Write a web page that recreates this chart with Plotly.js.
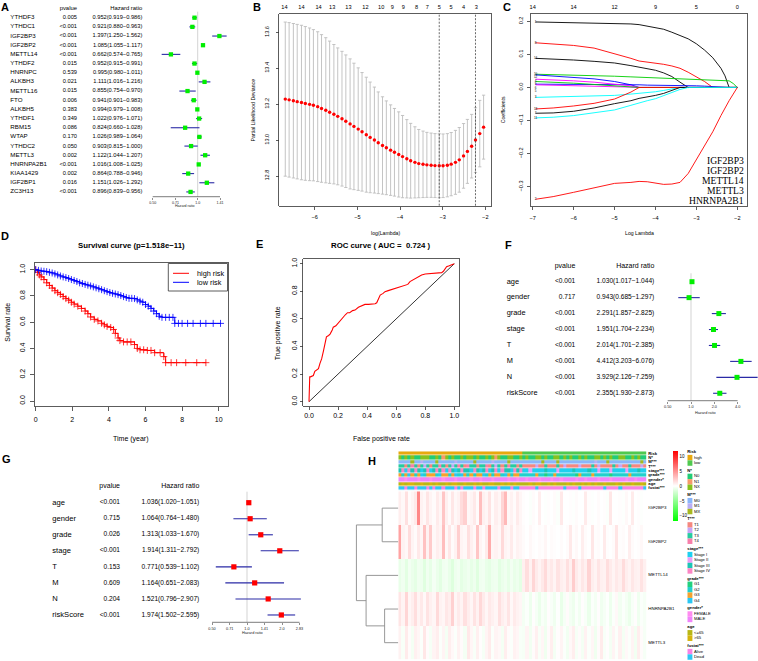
<!DOCTYPE html>
<html><head><meta charset="utf-8">
<script src="https://cdn.plot.ly/plotly-3.0.1.min.js"></script>
<style>body{margin:0;padding:0;background:#fff}#chart{width:758px;height:661px}</style>
</head><body><div id="chart"></div>
<script>
// ================= DATA =================
// Panel A: univariate Cox of m6A regulators
const aGenes = ["YTHDF3","YTHDC1","IGF2BP3","IGF2BP2","METTL14","YTHDF2","HNRNPC","ALKBH3","METTL16","FTO","ALKBH5","YTHDF1","RBM15","WTAP","YTHDC2","METTL3","HNRNPA2B1","KIAA1429","IGF2BP1","ZC3H13"];
const aP = ["0.005","<0.001","<0.001","<0.001","<0.001","0.015","0.539","0.021","0.015","0.006","0.383","0.349","0.086","0.170","0.050","0.002","<0.001","0.002","0.016","<0.001"];
const aHR = [0.952,0.921,1.397,1.085,0.662,0.952,0.995,1.111,0.855,0.941,0.994,1.022,0.824,1.026,0.903,1.122,1.016,0.864,1.151,0.896];
const aLow = [0.919,0.880,1.250,1.055,0.574,0.915,0.980,1.016,0.754,0.901,0.979,0.976,0.660,0.989,0.815,1.044,1.008,0.788,1.026,0.839];
const aHigh = [0.986,0.963,1.562,1.117,0.765,0.991,1.011,1.216,0.970,0.983,1.008,1.071,1.028,1.064,1.000,1.207,1.025,0.946,1.292,0.956];
const aTicks = [0.5,0.71,1,1.41];
const aTickText = ["0.50","0.71","1.0","1.41"];

// Panel B: cross-validation curve
const bX = [-6.69,-6.60,-6.50,-6.41,-6.31,-6.22,-6.12,-6.03,-5.93,-5.84,-5.74,-5.65,-5.55,-5.46,-5.36,-5.27,-5.17,-5.08,-4.98,-4.89,-4.79,-4.70,-4.60,-4.51,-4.41,-4.32,-4.22,-4.13,-4.03,-3.94,-3.84,-3.75,-3.65,-3.56,-3.46,-3.37,-3.27,-3.18,-3.08,-2.99,-2.89,-2.80,-2.70,-2.61,-2.51,-2.42,-2.32,-2.23,-2.13,-2.04];
const bMean = [13.228,13.224,13.219,13.214,13.209,13.204,13.199,13.194,13.186,13.176,13.166,13.155,13.144,13.132,13.119,13.105,13.090,13.076,13.061,13.046,13.030,13.015,13.000,12.985,12.970,12.957,12.944,12.932,12.920,12.908,12.896,12.885,12.876,12.869,12.865,12.862,12.860,12.858,12.857,12.857,12.860,12.866,12.876,12.890,12.912,12.937,12.966,13.000,13.036,13.072];
const bSd = [0.429,0.430,0.430,0.430,0.430,0.428,0.425,0.421,0.417,0.411,0.404,0.396,0.388,0.381,0.375,0.369,0.362,0.352,0.341,0.330,0.320,0.308,0.295,0.283,0.271,0.261,0.252,0.244,0.237,0.229,0.218,0.208,0.198,0.190,0.185,0.181,0.179,0.178,0.178,0.177,0.176,0.176,0.178,0.180,0.180,0.178,0.177,0.180,0.185,0.178];
const bTopX = [-6.71,-6.31,-5.91,-5.59,-5.21,-4.81,-4.44,-4.18,-3.92,-3.61,-3.36,-3.08,-2.80,-2.51,-2.21];
const bTopN = ["14","14","14","13","13","12","10","9","9","8","7","5","5","4","3"];
const bLambdaMin = -3.08, bLambda1se = -2.23;

// Panel C: LASSO coefficient paths
const cLam = [-6.93,-6.5,-6.0,-5.5,-5.0,-4.6,-4.4,-4.2,-4.0,-3.8,-3.6,-3.4,-3.2,-3.0,-2.8,-2.6,-2.4,-2.3,-2.2,-2.1,-2.0];
const cCoef = [
 [0.198,0.197,0.196,0.195,0.194,0.192,0.190,0.186,0.182,0.176,0.167,0.158,0.147,0.132,0.113,0.090,0.058,0.035,0,0,0],
 [0.135,0.132,0.127,0.119,0.103,0.088,0.080,0.077,0.073,0.070,0.065,0.058,0.046,0.033,0.018,0,0,0,0,0,0],
 [0.088,0.086,0.083,0.079,0.074,0.066,0.062,0.057,0.052,0.044,0.033,0.016,0,0,0,0,0,0,0,0,0],
 [0.040,0.039,0.038,0.036,0.034,0.032,0.031,0.030,0.029,0.028,0.027,0.025,0.024,0.023,0.022,0.022,0.022,0.021,0.020,0.012,0],
 [0.038,0.035,0.031,0.026,0.018,0.008,0,0,0,0,0,0,0,0,0,0,0,0,0,0,0],
 [0.010,0.010,0.009,0.009,0.008,0.008,0.008,0.007,0.007,0.007,0.006,0.006,0.005,0.005,0.004,0.002,0,0,0,0,0],
 [0.025,0.023,0.020,0.016,0.011,0.005,0,0,0,0,0,0,0,0,0,0,0,0,0,0,0],
 [0.008,0.007,0.006,0.005,0.003,0.001,0,0,0,0,0,0,0,0,0,0,0,0,0,0,0],
 [0.018,0.016,0.013,0.009,0.005,0,0,0,0,0,0,0,0,0,0,0,0,0,0,0,0],
 [-0.030,-0.029,-0.028,-0.027,-0.024,-0.020,-0.018,-0.016,-0.013,-0.009,-0.005,0,0,0,0,0,0,0,0,0,0],
 [-0.065,-0.062,-0.056,-0.048,-0.035,-0.014,0,0,0,0,0,0,0,0,0,0,0,0,0,0,0],
 [-0.078,-0.077,-0.072,-0.062,-0.049,-0.040,-0.033,-0.029,-0.024,-0.018,-0.010,0,0,0,0,0,0,0,0,0,0],
 [-0.092,-0.090,-0.085,-0.077,-0.068,-0.054,-0.046,-0.040,-0.034,-0.025,-0.015,-0.006,0,0,0,0,0,0,0,0,0],
 [-0.338,-0.330,-0.317,-0.303,-0.290,-0.287,-0.284,-0.285,-0.290,-0.293,-0.292,-0.287,-0.260,-0.218,-0.175,-0.134,-0.085,-0.060,-0.040,-0.020,0]
];
const cColors = ["#000000","#FF0000","#000000","#00CD00","#0000FF","#0000FF","#FF00FF","#FF00FF","#00CD00","#00FFFF","#FF0000","#000000","#00FFFF","#FF0000"];
const cVarLabels = ["1","8","14","10","12","6","4","5","9","3","13","7","11","2"];
const cTopX = [-7,-6,-5,-4,-3,-2];
const cTopN = ["14","14","12","9","5","0"];
const cLegend = ["IGF2BP3","IGF2BP2","METTL14","METTL3","HNRNPA2B1"];

// Panel D: Kaplan-Meier curves
const dHighT = [0,0.1,0.2,0.3,0.45,0.6,0.75,0.9,1.05,1.2,1.35,1.5,1.65,1.8,1.95,2.1,2.3,2.5,2.7,2.85,3.0,3.2,3.4,3.6,3.75,3.9,4.1,4.25,4.35,4.5,4.6,4.8,5.0,5.2,5.4,5.55,5.7,5.9,6.1,6.3,6.5,6.8,7.0,7.1,7.4,7.7,8.2,8.8,9.3];
const dHighS = [1,0.98,0.96,0.945,0.925,0.9,0.88,0.86,0.84,0.825,0.812,0.795,0.78,0.768,0.752,0.738,0.722,0.705,0.685,0.665,0.64,0.622,0.61,0.592,0.58,0.568,0.56,0.545,0.515,0.48,0.46,0.45,0.45,0.45,0.43,0.40,0.39,0.39,0.385,0.385,0.368,0.368,0.338,0.292,0.292,0.292,0.292,0.292,0.292];
const dLowT = [0,0.15,0.3,0.45,0.6,0.75,0.9,1.05,1.2,1.35,1.5,1.65,1.8,1.95,2.1,2.25,2.4,2.55,2.7,2.85,3.0,3.15,3.3,3.45,3.6,3.75,3.9,4.05,4.2,4.35,4.5,4.65,4.8,4.95,5.1,5.25,5.4,5.55,5.7,5.85,6.0,6.15,6.3,6.45,6.6,6.75,6.9,7.1,7.3,7.5,7.6,7.8,8.0,8.3,8.6,9.0,9.3,9.7,10.1];
const dLowS = [1,0.995,0.99,0.988,0.985,0.98,0.975,0.968,0.96,0.952,0.945,0.94,0.933,0.925,0.918,0.91,0.9,0.895,0.888,0.882,0.876,0.869,0.862,0.855,0.848,0.84,0.833,0.826,0.82,0.815,0.81,0.803,0.795,0.788,0.782,0.782,0.78,0.77,0.76,0.752,0.735,0.722,0.705,0.685,0.665,0.645,0.637,0.637,0.637,0.637,0.591,0.591,0.591,0.591,0.591,0.591,0.591,0.591,0.591];
const dGroups = ["high risk","low risk"];

// Panel E: ROC
const rocFPR = [0,0,0.005,0.01,0.03,0.04,0.055,0.065,0.076,0.087,0.1,0.11,0.12,0.135,0.145,0.16,0.167,0.185,0.2,0.215,0.225,0.24,0.25,0.265,0.28,0.3,0.317,0.34,0.36,0.385,0.41,0.44,0.455,0.466,0.48,0.49,0.51,0.523,0.545,0.569,0.59,0.615,0.64,0.66,0.68,0.695,0.71,0.73,0.755,0.775,0.8,0.844,0.88,0.913,0.925,0.936,0.947,0.965,0.98,1.0];
const rocTPR = [0,0.03,0.18,0.18,0.19,0.22,0.235,0.24,0.28,0.31,0.37,0.42,0.47,0.48,0.49,0.52,0.54,0.55,0.57,0.585,0.60,0.62,0.63,0.645,0.645,0.66,0.664,0.684,0.695,0.705,0.705,0.705,0.71,0.717,0.745,0.773,0.785,0.797,0.805,0.814,0.82,0.829,0.835,0.845,0.85,0.87,0.88,0.894,0.905,0.918,0.925,0.93,0.93,0.935,0.945,0.959,0.978,0.985,0.99,1.0];
const rocAUC = "0.724";

// Panels F/G: uni- and multivariate Cox
const fVars = ["age","gender","grade","stage","T","M","N","riskScore"];
const fP = ["<0.001","0.717","<0.001","<0.001","<0.001","<0.001","<0.001","<0.001"];
const fHR = [1.030,0.943,2.291,1.951,2.014,4.412,3.929,2.355];
const fLow = [1.017,0.685,1.857,1.704,1.701,3.203,2.126,1.930];
const fHigh = [1.044,1.297,2.825,2.234,2.385,6.076,7.259,2.873];
const fTicks = [0.5,1,2,4];
const fTickText = ["0.50","1.0","2.0","4.0"];
const gP = ["<0.001","0.715","0.026","<0.001","0.153","0.609","0.204","<0.001"];
const gHR = [1.036,1.064,1.313,1.914,0.771,1.164,1.521,1.974];
const gLow = [1.020,0.764,1.033,1.311,0.539,0.651,0.796,1.502];
const gHigh = [1.051,1.480,1.670,2.792,1.102,2.083,2.907,2.595];
const gTicks = [0.5,0.71,1,1.41,2,2.83];
const gTickText = ["0.50","0.71","1.0","1.41","2.0","2.83"];

// Panel H: heatmap (80 sample columns; first 40 high risk)
const hGenes = ["IGF2BP3","IGF2BP2","METTL14","HNRNPA2B1","METTL3"];
const hIGF2BP3 = [0.8,0.3,1.4,0.2,0.5,1.0,5.5,0.6,0.3,1.2, 0.5,0.2,0.9,0.4,2.6,0.7,0.2,1.1,0.3,0.6, 1.6,2.2,0.3,0.5,1.0,0.2,3.0,0.7,0.4,1.3, 0.2,0.8,0.4,1.9,3.2,0.3,0.6,0.2,0.9,0.4,
 0.1,0.0,-0.2,0.2,0.0,0.8,0.0,-0.1,0.1,0.0, 0.2,-0.2,1.0,0.0,0.0,0.1,-0.1,0.2,0.0,0.0, 0.9,0.1,-0.1,0.0,0.2,0.0,0.1,-0.2,1.1,0.0, 0.0,0.1,-0.1,0.3,0.0,0.9,0.0,0.1,-0.1,0.0];
const hIGF2BP2 = [4.2,0.6,0.3,1.6,0.5,0.2,1.0,0.4,2.8,0.6, 2.4,0.3,0.8,0.5,3.0,0.3,1.1,0.2,0.6,2.2, 0.5,0.3,1.4,0.7,0.3,2.6,0.5,0.2,0.9,3.8, 0.4,0.6,0.3,1.7,0.5,0.3,0.9,0.2,0.6,0.4,
 0.2,0.0,0.3,0.1,0.0,0.2,0.1,0.4,0.0,0.2, 0.1,0.0,0.2,0.0,0.2,1.0,0.1,0.3,0.0,0.8, 0.2,0.0,1.1,0.1,0.2,0.0,0.9,0.1,0.0,0.2, 1.2,0.1,0.2,0.0,0.8,0.2,0.0,0.1,0.3,0.0];
const hMETTL14 = [-1.0,-0.7,-1.3,-0.6,-0.9,-1.2,-0.7,-0.8,-1.4,-0.7, -1.1,-0.5,-0.9,-1.3,-0.7,-0.6,-1.0,-1.5,-0.8,-0.6, -1.2,-0.9,-0.7,-1.1,-0.8,-1.4,-0.7,-0.6,-1.0,-1.2, -0.8,-0.7,-1.3,-0.9,-0.7,-1.1,-0.6,-1.0,-0.8,-1.2,
 0.7,1.5,0.6,1.9,0.9,0.5,1.0,1.7,0.7,1.0, 0.5,1.3,0.8,0.6,1.4,0.7,2.3,0.9,0.5,1.1, 0.7,2.0,0.8,0.5,1.2,0.7,0.6,1.5,0.9,0.5, 1.0,0.7,1.6,0.8,0.5,1.1,0.7,0.6,1.3,0.7];
const hHNRNPA2B1 = [1.2,0.5,1.9,0.4,0.8,1.5,0.5,1.0,0.3,1.3, 0.7,0.4,1.7,0.6,0.4,1.1,0.8,2.1,0.4,0.9, 0.5,1.4,0.8,0.4,1.3,0.6,1.8,0.9,0.4,1.0, 0.7,0.4,1.4,0.8,0.5,1.2,0.3,0.9,0.6,0.4,
 -0.5,-0.2,-0.8,0.1,-0.4,-0.9,-0.3,-0.6,0.1,-0.3, -0.7,-0.1,-1.0,-0.4,0.2,-0.5,-0.8,-0.2,-0.6,0.1, -0.3,-0.9,-0.2,-0.5,0.1,-0.7,-0.4,-0.1,-0.8,-0.2, 0.3,-0.6,-0.2,-0.5,-0.9,-0.3,0.1,-0.7,-0.2,-0.4];
const hMETTL3 = [0.6,-0.3,0.9,0.2,-0.5,0.7,0.4,-0.2,1.1,0.2, -0.4,0.5,0.8,-0.2,0.5,-0.5,0.8,0.3,-0.2,0.6, 0.2,-0.5,1.0,0.4,-0.3,0.7,0.1,-0.4,0.5,0.9, -0.2,0.5,0.3,-0.5,0.8,0.2,-0.2,0.6,0.4,-0.3,
 -0.4,0.5,-0.6,0.2,0.7,-0.3,0.4,-0.7,0.2,0.8, -0.5,0.1,0.5,-0.2,-0.6,0.3,0.8,-0.4,0.2,-0.5, 0.6,-0.2,0.4,-0.7,0.2,0.9,-0.3,0.1,-0.5,0.5, -0.2,0.7,-0.5,0.3,-0.2,0.5,-0.6,0.8,0.2,-0.4];
const hLimit = 11.7;
// dendrogram merges: [childA, childB, height]; leaves 0..4, merges numbered 5..8
const hDendro = [[0,1,1.0],[3,4,0.85],[2,6,2.0],[5,7,2.6]];

// clinical annotation tracks (codes per sample)
const annNames = ["Risk","N*","M***","T***","stage***","grade***","gender*","age","fustat***"];
const annColors = [["#E8A90E","#4FC94F"],["#22CC77","#F59A6A","#86C21E"],["#8AB6FA","#B8AEF5","#A8B81E"],["#F5877F","#C6A5F5","#27CBA0","#F77FAB"],["#1FD0F0","#EC9BF5","#1CC5B5","#FB86C5"],["#22D17E","#22D0CC","#F5A22E","#2BC7F2"],["#FF8CF0","#F084FA"],["#B9B715","#D6B40C"],["#F882E6","#2EC6F4"]];
const annRisk   = "0000000000 0000000000 0000000000 0000000000 1111111111 1111111111 1111111111 1111111111";
const annN      = "2020200222 0020120200 2022020020 2120022002 0200220200 2202020020 2002202020 0220020200";
const annM      = "0000200100 0020000010 0000200000 1000020000 0000002000 0200000000 0001000200 0000000020";
const annT      = "2202320212 0223202123 2032202230 2120232202 0000100200 0201000010 0020100002 0100200010";
const annStage  = "2303232023 0232303202 3220320230 2303220323 0010000200 0100002000 0200100010 0001000200";
const annGrade  = "2123212312 2213221231 3212122312 1221321221 1111211011 2111111021 1121111101 1111211111";
const annGender = "1101110111 0111011101 1110110111 0111101101 1011101110 1101111011 0111011101 1110110111";
const annAge    = "0101100100 1010010110 0100101001 1001010100 0010110010 1000101001 0101001000 1010010010";
const annFustat = "1101101110 1011011101 0111011011 1101110110 0000100000 0001000010 0000001000 0100000001";
const annLegendTitles = ["Risk","N*","M***","T***","stage***","grade***","gender*","age","fustat***"];
const annLegendLabels = [["high","low"],["N0","N1","NX"],["M0","M1","MX"],["T1","T2","T3","T4"],["Stage I","Stage II","Stage III","Stage IV"],["G1","G2","G3","G4"],["FEMALE","MALE"],["<=65",">65"],["Alive","Dead"]];

// ================= HELPERS =================
const FONT = '"Liberation Sans", Arial, Helvetica, sans-serif';
const SERIF = '"Liberation Serif", "Times New Roman", serif';
const W = 758, H = 661;
const fx = p => p / W, fy = p => 1 - p / H;
const lin = (pA, vA, pB, vB) => p => vA + (p - pA) * (vB - vA) / (pB - pA);
function xAx(p0, p1, pA, vA, pB, vB, extra) { const f = lin(pA, vA, pB, vB); return Object.assign({domain:[fx(p0), fx(p1)], range:[f(p0), f(p1)], autorange:false}, extra || {}); }
function yAx(pTop, pBot, pA, vA, pB, vB, extra) { const f = lin(pA, vA, pB, vB); return Object.assign({domain:[fy(pBot), fy(pTop)], range:[f(pBot), f(pTop)], autorange:false}, extra || {}); }
const LG = Math.log10;

const traces = [], annotations = [], shapes = [];
const layout = {width:W, height:H, margin:{l:0,r:0,t:0,b:0}, showlegend:false, paper_bgcolor:'#ffffff', plot_bgcolor:'rgba(0,0,0,0)', font:{family:FONT, color:'#000'}, annotations, shapes};
layout.xaxis20 = {domain:[0,1], range:[0,W], visible:false, anchor:'y20'};
layout.yaxis20 = {domain:[0,1], range:[H,0], visible:false, anchor:'x20'};

function ann(text, xp, yp, o) {
  annotations.push(Object.assign({text, x:fx(xp), y:fy(yp), xref:'paper', yref:'paper', showarrow:false, xanchor:'center', yanchor:'middle', font:{family:FONT, size:7, color:'#000'}}, o || {}));
}
function txt(xa, ya, xs, ys, texts, pos, size, extra) {
  traces.push(Object.assign({type:'scatter', mode:'text', xaxis:xa, yaxis:ya, x:xs, y:ys, text:texts, textposition:pos, textfont:{family:FONT, size, color:'#000'}, cliponaxis:false, hoverinfo:'skip'}, extra || {}));
}
const boxAx = {showline:true, mirror:true, linecolor:'#333', linewidth:0.8, ticks:'outside', ticklen:3, tickwidth:0.8, tickcolor:'#333', showgrid:false, zeroline:false};

// ================= FOREST PLOTS (A, F, G) =================
function forest(o) {
  const idx = o.names.map((_, i) => i);
  const rowIdx = p => (p - o.r0) / o.dr;
  const base = rowIdx(o.basePx);
  const xa = o.xa, ya = o.ya;
  layout[o.xKey] = xAx(o.xp0, o.xp1, o.cal[0], LG(o.cal[1]), o.cal[2], LG(o.cal[3]), {type:'log', anchor:'free', position:fy(o.basePx), showline:false, showgrid:false, zeroline:false, ticks:'outside', ticklen:2, tickwidth:0.6, tickcolor:'#444', tickvals:o.ticks, ticktext:o.tickText, tickfont:{size:o.tfs, family:FONT, color:'#222'}, ticklabelstandoff:0});
  layout[o.yKey] = yAx(o.yTop, o.yBot, o.r0, 0, o.r0 + o.dr, 1, {visible:false, anchor:xa});
  traces.push({type:'scatter', mode:'lines', xaxis:xa, yaxis:ya, x:[1,1], y:[rowIdx(o.vTopPx), base], line:{color:'#C8C8C8', width:0.8}, hoverinfo:'skip'});
  traces.push({type:'scatter', mode:'lines', xaxis:xa, yaxis:ya, x:[o.ticks[0], o.ticks[o.ticks.length-1]], y:[base, base], line:{color:'#444', width:0.7}, hoverinfo:'skip'});
  traces.push({type:'scatter', mode:'markers', xaxis:xa, yaxis:ya, x:o.hr, y:idx,
    marker:{symbol:'square', size:o.msize, color:o.color},
    error_x:{type:'data', symmetric:false, array:o.hi.map((h, i) => h - o.hr[i]), arrayminus:o.hr.map((h, i) => h - o.lo[i]), color:'#2A2AA6', thickness:1.1, width:0},
    cliponaxis:false, hoverinfo:'skip'});
  const hrTxt = o.hr.map((h, i) => h.toFixed(3) + '(' + o.lo[i].toFixed(3) + '\u2212' + o.hi[i].toFixed(3) + ')');
  txt('x20', ya, idx.map(() => o.nameX), idx, o.names, 'middle right', o.fsName);
  txt('x20', ya, idx.map(() => o.pX), idx, o.pv, 'middle left', o.fsNum);
  txt('x20', ya, idx.map(() => o.hrX), idx, hrTxt, 'middle left', o.fsNum);
  txt('x20', ya, [o.pX, o.hrX], [-1, -1], ['pvalue', 'Hazard ratio'], 'middle left', o.fsHead);
  ann('Hazard ratio', o.titleXY[0], o.titleXY[1], {font:{family:FONT, size:o.tfs, color:'#222'}});
}
forest({names:aGenes, pv:aP, hr:aHR, lo:aLow, hi:aHigh, xa:'x', ya:'y', xKey:'xaxis', yKey:'yaxis',
  r0:17.7, dr:9.17, basePx:196.7, yTop:2, yBot:199, xp0:146, xp1:234, cal:[152.7,0.5,197.7,1],
  ticks:aTicks, tickText:aTickText, tfs:3.6, vTopPx:11.7, color:'#00EE00', msize:4.3,
  nameX:10.3, pX:77, hrX:142.3, fsName:6.2, fsNum:5.7, fsHead:5.9, titleXY:[185,206.3]});
forest({names:fVars, pv:fP, hr:fHR, lo:fLow, hi:fHigh, xa:'x8', ya:'y8', xKey:'xaxis8', yKey:'yaxis8',
  r0:281.7, dr:15.94, basePx:400.7, yTop:255, yBot:404, xp0:660, xp1:758, cal:[667.7,0.5,691,1],
  ticks:fTicks, tickText:fTickText, tfs:3.8, vTopPx:273.3, color:'#00EE00', msize:5,
  nameX:506.7, pX:575.3, hrX:654.3, fsName:7.4, fsNum:6.6, fsHead:7, titleXY:[705,412.7]});
forest({names:fVars, pv:gP, hr:gHR, lo:gLow, hi:gHigh, xa:'x9', ya:'y9', xKey:'xaxis9', yKey:'yaxis9',
  r0:502.7, dr:16.04, basePx:622.3, yTop:476, yBot:625, xp0:205, xp1:312, cal:[212,0.5,247,1],
  ticks:gTicks, tickText:gTickText, tfs:3.8, vTopPx:491.7, color:'#FF0000', msize:5.2,
  nameX:52.3, pX:120, hrX:199.3, fsName:7.6, fsNum:6.6, fsHead:7, titleXY:[252,632.5]});

// ================= B: CV curve =================
layout.xaxis2 = xAx(279.3, 490.7, 314.7, -6, 485.3, -2, Object.assign({}, boxAx, {anchor:'y2', tickvals:[-6,-5,-4,-3,-2], tickfont:{size:5.6}, ticklabelstandoff:3}));
layout.yaxis2 = yAx(14, 205.7, 176, 12.8, 32.3, 13.6, Object.assign({}, boxAx, {anchor:'x2', tickvals:[12.8,13.0,13.2,13.4,13.6], tickformat:'.1f', tickangle:-90, tickfont:{size:5.6}, ticklabelstandoff:4}));
layout.xaxis3 = {overlaying:'x2', side:'top', anchor:'y2', range:layout.xaxis2.range, autorange:false, tickvals:bTopX, ticktext:bTopN, ticks:'', showline:false, showgrid:false, zeroline:false, tickfont:{size:5.6}, ticklabelstandoff:3};
traces.push({type:'scatter', mode:'markers', xaxis:'x3', yaxis:'y2', x:[bTopX[0]], y:[bMean[0]], marker:{opacity:0}, hoverinfo:'skip'});
traces.push({type:'scatter', mode:'markers', xaxis:'x2', yaxis:'y2', x:bX, y:bMean, marker:{color:'#FF0000', size:3.4},
  error_y:{type:'data', array:bSd, color:'#BDBDBD', thickness:0.9, width:1.6}, hoverinfo:'skip'});
[bLambdaMin, bLambda1se].forEach(v => shapes.push({type:'line', xref:'x2', yref:'y2 domain', x0:v, x1:v, y0:0, y1:1, line:{color:'#444', width:0.8, dash:'2px,1.5px'}}));
ann('log(Lambda)', 385, 233, {font:{family:FONT, size:5.2}});
ann('Partial Likelihood Deviance', 252.5, 110, {textangle:-90, font:{family:FONT, size:5.2}});

// ================= C: coefficient paths =================
layout.xaxis4 = xAx(531, 746.7, 532.7, -7, 737.3, -2, Object.assign({}, boxAx, {anchor:'y4', tickvals:[-7,-6,-5,-4,-3,-2], tickfont:{size:5.6}, ticklabelstandoff:3}));
layout.yaxis4 = yAx(14, 206, 186.7, -0.3, 21.3, 0.2, Object.assign({}, boxAx, {anchor:'x4', tickvals:[-0.3,-0.2,-0.1,0,0.1,0.2], tickformat:'.1f', tickangle:-90, tickfont:{size:5.6}, ticklabelstandoff:2}));
layout.xaxis5 = {overlaying:'x4', side:'top', anchor:'y4', range:layout.xaxis4.range, autorange:false, tickvals:cTopX, ticktext:cTopN, ticks:'', showline:false, showgrid:false, zeroline:false, tickfont:{size:5.6}, ticklabelstandoff:3};
traces.push({type:'scatter', mode:'markers', xaxis:'x5', yaxis:'y4', x:[cTopX[0]], y:[0], marker:{opacity:0}, hoverinfo:'skip'});
cCoef.forEach((row, k) => traces.push({type:'scatter', mode:'lines', xaxis:'x4', yaxis:'y4', x:cLam, y:row, line:{color:cColors[k], width:0.9}, hoverinfo:'skip'}));
// variable index labels at the left end, nudged apart so they do not collide
(function () {
  const order = cCoef.map((r, k) => k).sort((a, b) => cCoef[b][0] - cCoef[a][0]);
  const ly = cCoef.map(r => r[0]);
  const sep = 0.0105;
  for (let i = 1; i < order.length; i++) {
    const prev = ly[order[i - 1]], k = order[i];
    if (prev - ly[k] < sep) ly[k] = prev - sep;
  }
  txt('x4', 'y4', cCoef.map(() => cLam[0]), ly, cVarLabels, 'middle center', 3.0);
})();
cLegend.forEach((g, i) => ann(g, 745.7, 160 + i * 10.17, {xanchor:'right', font:{family:SERIF, size:9.6, color:'#000'}}));
ann('Log Lambda', 639, 233, {font:{family:FONT, size:5.2}});
ann('Coefficients', 503.3, 110, {textangle:-90, font:{family:FONT, size:5.2}});

// ================= D: survival =================
layout.xaxis6 = xAx(35, 227.7, 35.7, 0, 218.7, 10, Object.assign({}, boxAx, {anchor:'y6', tickvals:[0,2,4,6,8,10], ticklen:4, tickfont:{size:7}, ticklabelstandoff:3}));
layout.yaxis6 = yAx(263.3, 406, 401, 0, 269.7, 1, Object.assign({}, boxAx, {anchor:'x6', tickvals:[0,0.2,0.4,0.6,0.8,1.0], tickformat:'.1f', tickangle:-90, ticklen:4, tickfont:{size:7}, ticklabelstandoff:2}));
traces.push({type:'scatter', mode:'lines+markers', xaxis:'x6', yaxis:'y6', x:dHighT, y:dHighS, line:{shape:'hv', color:'#FF0000', width:1}, marker:{symbol:'cross-thin', size:5, line:{width:0.8, color:'#FF0000'}}, hoverinfo:'skip'});
traces.push({type:'scatter', mode:'lines+markers', xaxis:'x6', yaxis:'y6', x:dLowT, y:dLowS, line:{shape:'hv', color:'#0000FF', width:1}, marker:{symbol:'cross-thin', size:5, line:{width:0.8, color:'#0000FF'}}, hoverinfo:'skip'});
shapes.push({type:'rect', xref:'paper', yref:'paper', x0:fx(168.3), x1:fx(227.5), y0:fy(291), y1:fy(263.5), line:{color:'#333', width:0.8}, fillcolor:'#fff'});
[['#FF0000',273.3],['#0000FF',282.3]].forEach(([c, y], i) => {
  shapes.push({type:'line', xref:'paper', yref:'paper', x0:fx(173), x1:fx(189), y0:fy(y), y1:fy(y), line:{color:c, width:1}});
  ann(dGroups[i], 195, y, {xanchor:'left', font:{family:FONT, size:7.3}});
});
ann('<b>Survival curve (p=1.518e\u221211)</b>', 131, 245.7, {font:{family:FONT, size:7.8}});
ann('Time (year)', 131, 438.5, {font:{family:FONT, size:7}});
ann('Survival rate', 6.7, 322, {textangle:-90, font:{family:FONT, size:7}});

// ================= E: ROC =================
layout.xaxis7 = xAx(303.3, 459.3, 309, 0, 454.3, 1, Object.assign({}, boxAx, {anchor:'y7', tickvals:[0,0.2,0.4,0.6,0.8,1.0], tickformat:'.1f', tickfont:{size:7}}));
layout.yaxis7 = yAx(259.3, 405.7, 401.7, 0, 263.7, 1, Object.assign({}, boxAx, {anchor:'x7', tickvals:[0,0.2,0.4,0.6,0.8,1.0], tickformat:'.1f', tickangle:-90, tickfont:{size:7}}));
traces.push({type:'scatter', mode:'lines', xaxis:'x7', yaxis:'y7', x:[0,1], y:[0,1], line:{color:'#000', width:0.8}, hoverinfo:'skip'});
traces.push({type:'scatter', mode:'lines', xaxis:'x7', yaxis:'y7', x:rocFPR, y:rocTPR, line:{color:'#FF0000', width:1.1}, hoverinfo:'skip'});
ann('<b>ROC curve ( AUC =  ' + rocAUC + ' )</b>', 381, 245.3, {font:{family:FONT, size:7.8}});
ann('False positive rate', 381, 438.5, {font:{family:FONT, size:7}});
ann('True positive rate', 278.3, 333, {textangle:-90, font:{family:FONT, size:7}});

// ================= H: heatmap =================
const nCol = hIGF2BP3.length;
layout.xaxis10 = {domain:[fx(398.3), fx(646.7)], range:[-0.5, nCol - 0.5], visible:false, anchor:'y10'};
layout.yaxis10 = {domain:[fy(659.5), fy(491.3)], range:[hGenes.length - 0.5, -0.5], visible:false, anchor:'x10'};
layout.yaxis11 = {domain:[fy(490.6), fy(451.3)], range:[annNames.length - 0.5, -0.5], visible:false, anchor:'x10'};
layout.xaxis11 = {domain:[fx(354), fx(398.3)], range:[2.75, 0], visible:false, anchor:'y10'};
traces.push({type:'heatmap', xaxis:'x10', yaxis:'y10', z:[hIGF2BP3, hIGF2BP2, hMETTL14, hHNRNPA2B1, hMETTL3],
  zmin:-hLimit, zmax:hLimit, colorscale:[[0,'#00FF00'],[0.5,'#FFFFFF'],[1,'#FF0000']], hoverinfo:'skip',
  colorbar:{x:fx(673.3), xanchor:'left', y:fy(486), yanchor:'middle', len:70, lenmode:'pixels', thickness:4.5, thicknessmode:'pixels', outlinewidth:0, xpad:0, ypad:0,
    tickvals:[-10,-5,0,5,10], ticktext:['\u221210','\u22125','0','5','10'], ticks:'', tickfont:{size:4.5, family:FONT}, ticklabelpad:1}});
// annotation tracks
const annStrings = [annRisk, annN, annM, annT, annStage, annGrade, annGender, annAge, annFustat];
const offsets = []; let tot = 0;
annColors.forEach(c => { offsets.push(tot); tot += c.length; });
const flatColors = [].concat(...annColors);
const annZ = annStrings.map((s, r) => s.replace(/\s/g, '').split('').map(ch => offsets[r] + Number(ch)));
const discScale = [];
flatColors.forEach((c, i) => { discScale.push([i / tot, c]); discScale.push([(i + 1) / tot, c]); });
traces.push({type:'heatmap', xaxis:'x10', yaxis:'y11', z:annZ, zmin:-0.5, zmax:tot - 0.5, colorscale:discScale, showscale:false, ygap:0.6, hoverinfo:'skip'});
// row labels
txt('x20', 'y10', hGenes.map(() => 648.3), hGenes.map((_, i) => i), hGenes, 'middle right', 4.4);
txt('x20', 'y11', annNames.map(() => 648.3), annNames.map((_, i) => i), annNames.map(s => '<b>' + s + '</b>'), 'middle right', 4.2);
// dendrogram
(function () {
  const ny = hGenes.map((_, i) => i), nh = hGenes.map(() => 0);
  const dx = [], dy = [];
  hDendro.forEach(([a, b, h]) => {
    dx.push(nh[a], h, h, nh[b], null); dy.push(ny[a], ny[a], ny[b], ny[b], null);
    ny.push((ny[a] + ny[b]) / 2); nh.push(h);
  });
  traces.push({type:'scatter', mode:'lines', xaxis:'x11', yaxis:'y10', x:dx, y:dy, line:{color:'#8C8C8C', width:0.9}, cliponaxis:false, hoverinfo:'skip'});
})();
// legend of annotation tracks
(function () {
  let y = 452;
  const tx = [], ty = [], tt = [];
  annLegendTitles.forEach((t, g) => {
    tx.push(687.3); ty.push(y); tt.push('<b>' + t + '</b>');
    y += 5.6;
    annLegendLabels[g].forEach((lab, k) => {
      shapes.push({type:'rect', xref:'paper', yref:'paper', x0:fx(687.5), x1:fx(692.4), y0:fy(y + 2.72), y1:fy(y - 2.72), line:{width:0}, fillcolor:annColors[g][k]});
      tx.push(694); ty.push(y); tt.push(lab);
      y += 5.45;
    });
    y += 2.3;
  });
  txt('x20', 'y20', tx, ty, tt, 'middle right', 4.2);
})();

// ================= panel letters =================
[['A',5,7],['B',257,7],['C',507,7],['D',5,236],['E',259,244],['F',508.3,245],['G',6,458.5],['H',372,461]].forEach(([t, x, y]) =>
  ann('<b>' + t + '</b>', x, y, {font:{family:FONT, size:11, color:'#000'}}));

Plotly.newPlot('chart', traces, layout, {staticPlot:true, displayModeBar:false});
</script>
</body></html>
